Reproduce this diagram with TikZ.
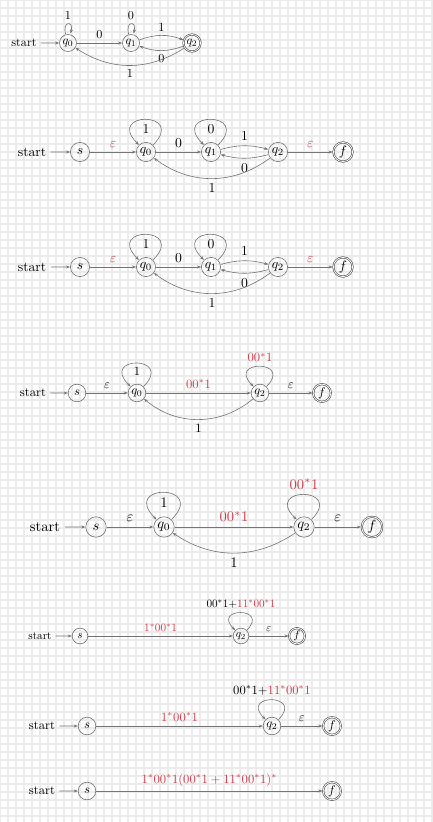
\documentclass[tikz,border=0pt]{standalone}
\usepackage{tikz}
\usetikzlibrary{
    arrows.meta,
    automata, % to use \node[state]
    positioning
}
\usepackage{amsmath, amssymb}

\definecolor{lblred}{RGB}{205,60,75}

\begin{document}
\begin{tikzpicture} [
    x=1pt, y=1pt,
    auto,
    >={Stealth[length=4pt,width=3pt]},
    every state/.style = {draw=black!55, line width=.6pt, inner sep=1pt, minimum size=14pt},
    final/.style = {state, accepting, double distance=.8pt, draw=black!70},
    every edge/.style = {draw=black!55, line width=.6pt, ->}
]
    \useasboundingbox (0,0) rectangle (432,-822);
    \fill[white] (0,0) rectangle (432,-822);
    \draw[step=8pt, black!8, line width=1.6pt] (0,-822) grid (432,0);

    % the dfa
    \begin{scope}[every node/.append style={scale=1.22}]
        \node (startA) at (24,-43) {start};
        \node[state] (q0A) at (68,-43) {$q_0$};
        \node[state] (q1A) at (131,-43) {$q_1$};
        \node[final] (q2A) at (192,-43) {$q_2$};

        \path (startA) edge (q0A)
              (q0A) edge[loop above] node {$1$} ()
                    edge node {$0$} (q1A)
              (q1A) edge[loop above] node {$0$} ()
                    edge[bend left=20] node {$1$} (q2A)
              (q2A) edge[bend left=20] node {$0$} (q1A)
                    edge[bend left=33] node {$1$} (q0A);
    \end{scope}

    % new start s and final f, drawn twice
    \foreach \y/\n in {152/B, 267/C} {
    \begin{scope}[every node/.append style={scale=1.37}]
        \node (start\n) at (32,-\y) {start};
        \node[state] (s\n) at (80,-\y) {$s$};
        \node[state] (q0\n) at (146,-\y) {$q_0$};
        \node[state] (q1\n) at (211,-\y) {$q_1$};
        \node[state] (q2\n) at (278,-\y) {$q_2$};
        \node[final] (f\n) at (343,-\y) {$f$};

        \path (start\n) edge (s\n)
              (s\n) edge node[lblred] {$\varepsilon$} (q0\n)
              (q0\n) edge[out=45, in=135, distance=48pt] node {$1$} (q0\n)
                     edge node {$0$} (q1\n)
              (q1\n) edge[out=45, in=135, distance=48pt] node {$0$} (q1\n)
                     edge[bend left=15] node {$1$} (q2\n)
              (q2\n) edge[bend left=15] node {$0$} (q1\n)
                     edge[bend left=37] node {$1$} (q0\n)
                     edge node[lblred] {$\varepsilon$} (f\n);
    \end{scope}
    }

    % q1 removed
    \begin{scope}[every node/.append style={scale=1.26}]
        \node (startD) at (33,-393) {start};
        \node[state] (sD) at (77,-393) {$s$};
        \node[state] (q0D) at (137,-393) {$q_0$};
        \node[state] (q2D) at (260,-393) {$q_2$};
        \node[final] (fD) at (322,-393) {$f$};

        \path (startD) edge (sD)
              (sD) edge node {$\varepsilon$} (q0D)
              (q0D) edge[out=45, in=135, distance=44pt] node {$1$} (q0D)
                    edge node[lblred] {$00^*1$} (q2D)
              (q2D) edge[out=45, in=135, distance=38pt] node[swap, lblred] {$00^*1$} (q2D)
                    edge node {$\varepsilon$} (fD)
                    edge[bend left=40] node {$1$} (q0D);
    \end{scope}

    % same, bigger
    \begin{scope}[every node/.append style={scale=1.46}]
        \node (startE) at (45,-527) {start};
        \node[state] (sE) at (96,-527) {$s$};
        \node[state] (q0E) at (164,-527) {$q_0$};
        \node[state] (q2E) at (304,-527) {$q_2$};
        \node[final] (fE) at (372,-527) {$f$};

        \path (startE) edge (sE)
              (sE) edge node {$\varepsilon$} (q0E)
              (q0E) edge[out=45, in=135, distance=51pt] node {$1$} (q0E)
                    edge node[lblred] {$00^*1$} (q2E)
              (q2E) edge[out=45, in=135, distance=47pt] node[swap, lblred] {$00^*1$} (q2E)
                    edge node {$\varepsilon$} (fE)
                    edge[bend left=34] node {$1$} (q0E);
    \end{scope}

    % q0 removed
    \begin{scope}[every node/.append style={scale=1.12}]
        \node (startF) at (40,-636) {start};
        \node[state] (sF) at (80,-636) {$s$};
        \node[state] (q2F) at (241,-636) {$q_2$};
        \node[final] (fF) at (297,-636) {$f$};

        \path (startF) edge (sF)
              (sF) edge node[lblred] {$1^*00^*1$} (q2F)
              (q2F) edge[out=45, in=135, distance=33pt] node[swap] {$00^*1+$\textcolor{lblred}{$11^*00^*1$}} (q2F)
                    edge node {$\varepsilon$} (fF);
    \end{scope}

    \begin{scope}[every node/.append style={scale=1.26}]
        \node (startG) at (42,-726) {start};
        \node[state] (sG) at (87,-726) {$s$};
        \node[state] (q2G) at (272,-726) {$q_2$};
        \node[final] (fG) at (332,-726) {$f$};

        \path (startG) edge (sG)
              (sG) edge node[lblred] {$1^*00^*1$} (q2G)
              (q2G) edge[out=45, in=135, distance=37pt] node[swap] {$00^*1+$\textcolor{lblred}{$11^*00^*1$}} (q2G)
                    edge node {$\varepsilon$} (fG);
    \end{scope}

    % q2 removed
    \begin{scope}[every node/.append style={scale=1.26}]
        \node (startH) at (42,-791) {start};
        \node[state] (sH) at (87,-791) {$s$};
        \node[final] (fH) at (332,-791) {$f$};

        \path (startH) edge (sH)
              (sH) edge node[lblred] {$1^*00^*1(00^*1 + 11^*00^*1)^*$} (fH);
    \end{scope}
\end{tikzpicture}
\end{document}
